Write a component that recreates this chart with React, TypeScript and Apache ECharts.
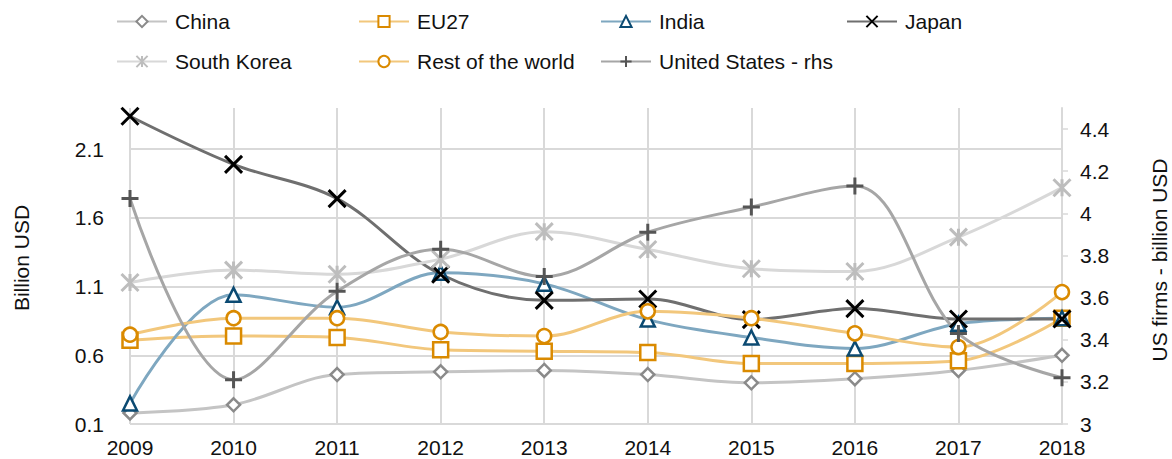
import { useEffect, useRef } from "react";
import * as echarts from "echarts";

const years = ["2009", "2010", "2011", "2012", "2013", "2014", "2015", "2016", "2017", "2018"];
const china = [0.18, 0.24, 0.46, 0.48, 0.49, 0.46, 0.4, 0.43, 0.49, 0.6];
const eu27 = [0.71, 0.74, 0.73, 0.64, 0.63, 0.62, 0.54, 0.54, 0.56, 0.87];
const india = [0.25, 1.04, 0.95, 1.2, 1.12, 0.86, 0.73, 0.65, 0.83, 0.87];
const japan = [2.34, 1.99, 1.74, 1.19, 1.0, 1.01, 0.86, 0.94, 0.864, 0.864];
const southKorea = [1.13, 1.22, 1.19, 1.3, 1.5, 1.37, 1.23, 1.21, 1.46, 1.82];
const restOfWorld = [0.75, 0.87, 0.87, 0.77, 0.74, 0.92, 0.87, 0.76, 0.66, 1.06];
const unitedStates = [4.07, 3.21, 3.63, 3.83, 3.7, 3.91, 4.03, 4.13, 3.43, 3.22];
const leftTicks = [0.1, 0.6, 1.1, 1.6, 2.1];
const rightTicks = [3, 3.2, 3.4, 3.6, 3.8, 4, 4.2, 4.4];

const FONT = "'Liberation Sans', Arial, sans-serif";
const TXT = "#111111";
const GRID = "#d9d9d9";

const X_PATH = "path://M0,0L10,10M10,0L0,10";
const PLUS_PATH = "path://M5,0L5,10M0,5L10,5";
const STAR_PATH = "path://M0,0L10,10M10,0L0,10M5,0L5,10";

function mk(
  name: string,
  data: number[],
  lineColor: string,
  symbol: string,
  size: number,
  markerColor: string,
  fill: string,
  yAxisIndex = 0,
  bw = 2.5
) {
  return {
    name,
    type: "line",
    data,
    yAxisIndex,
    smooth: 0.35,
    symbol,
    symbolSize: size,
    showSymbol: true,
    lineStyle: { color: lineColor, width: 3 },
    itemStyle: { color: fill, borderColor: markerColor, borderWidth: bw },
    emphasis: { disabled: true },
  };
}

export default function App() {
  const ref = useRef<HTMLDivElement>(null);
  useEffect(() => {
    if (!ref.current) return;
    const chart = echarts.init(ref.current, undefined, { renderer: "svg" });
    const legendBase = {
      orient: "vertical",
      top: 11,
      padding: 0,
      itemGap: 19,
      itemWidth: 50,
      itemHeight: 14,
      selectedMode: false,
      textStyle: { fontSize: 21, fontFamily: FONT, color: TXT, padding: [0, 0, 0, 3] },
    };
    chart.setOption({
      animation: false,
      backgroundColor: "#ffffff",
      textStyle: { fontFamily: FONT },
      grid: { left: 130, right: 110, top: 108, bottom: 35, containLabel: false },
      legend: [
        { ...legendBase, left: 116, data: ["China", "South Korea"] },
        { ...legendBase, left: 358, data: ["EU27", "Rest of the world"] },
        { ...legendBase, left: 600, data: ["India", "United States - rhs"] },
        { ...legendBase, left: 846, data: ["Japan"] },
      ],
      xAxis: {
        type: "category",
        data: years,
        boundaryGap: false,
        axisLine: { show: false },
        axisTick: { show: false },
        axisLabel: { fontSize: 21, fontFamily: FONT, color: TXT, margin: 13 },
        splitLine: { show: true, lineStyle: { color: GRID, width: 2 } },
      },
      yAxis: [
        {
          type: "value",
          min: 0.1,
          max: 2.4,
          axisLine: { show: false },
          axisTick: { show: false, customValues: leftTicks },
          axisLabel: { fontSize: 21, fontFamily: FONT, color: TXT, margin: 26, customValues: leftTicks },
          splitLine: { show: true, lineStyle: { color: GRID, width: 2 } },
        },
        {
          type: "value",
          min: 3,
          max: 4.5,
          position: "right",
          axisLine: { show: true, lineStyle: { color: GRID, width: 2 } },
          axisTick: { show: true, inside: false, length: 6, lineStyle: { color: GRID, width: 1.5 }, customValues: rightTicks },
          axisLabel: { fontSize: 21, fontFamily: FONT, color: TXT, margin: 18, customValues: rightTicks },
          splitLine: { show: false },
        },
      ],
      graphic: [
        {
          type: "text",
          x: 21,
          y: 258,
          rotation: Math.PI / 2,
          style: { text: "Billion USD", fontSize: 21, fontFamily: FONT, fill: TXT, align: "center", verticalAlign: "middle" },
        },
        {
          type: "text",
          x: 1159,
          y: 260,
          rotation: Math.PI / 2,
          style: { text: "US firms - billion USD", fontSize: 21, fontFamily: FONT, fill: TXT, align: "center", verticalAlign: "middle" },
        },
      ],
      series: [
        mk("China", china, "#c4c4c4", "diamond", 13, "#8a8a8a", "#ffffff"),
        mk("EU27", eu27, "#f2c77c", "rect", 15, "#da8a00", "#ffffff"),
        mk("India", india, "#7ea7c0", "triangle", 14, "#0b4a72", "#ffffff"),
        mk("Japan", japan, "#6f6f6f", X_PATH, 17, "#000000", "#000000", 0, 3),
        mk("South Korea", southKorea, "#d8d8d8", STAR_PATH, 17, "#bdbdbd", "#bdbdbd", 0, 3),
        mk("Rest of the world", restOfWorld, "#f2c77c", "circle", 14, "#da8a00", "#ffffff"),
        mk("United States - rhs", unitedStates, "#a6a6a6", PLUS_PATH, 17, "#555555", "#555555", 1, 3),
      ],
    });
    return () => chart.dispose();
  }, []);
  return <div ref={ref} style={{ position: "fixed", left: 0, top: 0, width: 1172, height: 459 }} />;
}
